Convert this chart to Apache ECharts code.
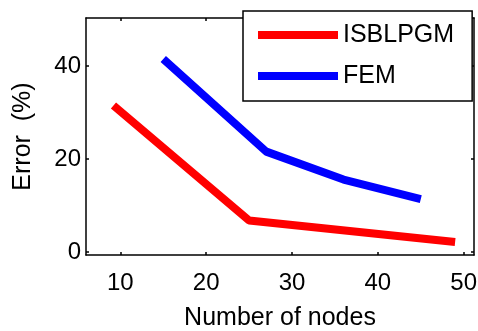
<!DOCTYPE html>
<html>
<head>
<meta charset="utf-8">
<script src="https://cdn.jsdelivr.net/npm/echarts@6/dist/echarts.min.js"></script>
<style>
html,body{margin:0;padding:0;background:#fff;}
#main{width:478px;height:331px;}
</style>
</head>
<body>
<div id="main"></div>
<script>
// data
var isblpgmX = [9.2, 25, 49];
var isblpgmY = [31.5, 6.8, 2.2];
var femX = [15, 27, 36, 45];
var femY = [41.5, 21.6, 15.6, 11.4];
var xTicks = [10, 20, 30, 40, 50];
var yTicks = [0, 20, 40];

var FONT = "'Liberation Sans', Arial, sans-serif";

var toPairs = function(xs, ys){
    var out = [];
    for (var i = 0; i < xs.length; i++) {
        out.push([xs[i], ys[i]]);
    }
    return out;
};

var myChart = echarts.init(document.getElementById('main'));

var axisLine = {show: true, onZero: false, lineStyle: {color: '#000', width: 1.5}};
var tick = function(vals){
    return {show: true, inside: true, length: 3, customValues: vals, lineStyle: {color: '#000', width: 1.5}};
};

var options = {
    animation: false,
    backgroundColor: '#fff',
    grid: {left: 86, right: 4, top: 18, bottom: 76, outerBoundsMode: 'none'},
    legend: {
        left: 243,
        top: 11,
        orient: 'vertical',
        padding: [10, 18, 11, 15],
        itemGap: 13,
        itemWidth: 80,
        itemHeight: 8,
        itemTextGap: 11,
        icon: 'rect',
        backgroundColor: '#fff',
        borderColor: '#000',
        borderWidth: 1.5,
        borderRadius: 0,
        textStyle: {fontFamily: FONT, fontSize: 25, color: '#000', lineHeight: 28},
        data: ['ISBLPGM', 'FEM']
    },
    xAxis: [
        {
            type: 'value', min: 6, max: 51.2, position: 'bottom',
            axisLine: axisLine,
            axisTick: tick(xTicks),
            splitLine: {show: false},
            axisLabel: {customValues: xTicks, margin: 16, color: '#000', fontFamily: FONT, fontSize: 24},
            name: 'Number of nodes',
            nameLocation: 'middle',
            nameGap: 51,
            nameTextStyle: {fontFamily: FONT, fontSize: 25, color: '#000'}
        },
        {
            type: 'value', min: 6, max: 51.2, position: 'top',
            axisLine: axisLine,
            axisTick: tick(xTicks),
            splitLine: {show: false},
            axisLabel: {show: false}
        }
    ],
    yAxis: [
        {
            type: 'value', min: -0.6, max: 50.3, position: 'left',
            axisLine: axisLine,
            axisTick: tick(yTicks),
            splitLine: {show: false},
            axisLabel: {customValues: yTicks, margin: 5, color: '#000', fontFamily: FONT, fontSize: 24},
            name: 'Error  (%)',
            nameLocation: 'middle',
            nameGap: 50,
            nameRotate: 90,
            nameTextStyle: {fontFamily: FONT, fontSize: 25, color: '#000'}
        },
        {
            type: 'value', min: -0.6, max: 50.3, position: 'right',
            axisLine: axisLine,
            axisTick: tick(yTicks),
            splitLine: {show: false},
            axisLabel: {show: false}
        }
    ],
    series: [
        {
            name: 'ISBLPGM',
            type: 'line',
            showSymbol: false,
            symbol: 'none',
            color: '#ff0000',
            lineStyle: {color: '#ff0000', width: 8},
            data: toPairs(isblpgmX, isblpgmY)
        },
        {
            name: 'FEM',
            type: 'line',
            showSymbol: false,
            symbol: 'none',
            color: '#0000ff',
            lineStyle: {color: '#0000ff', width: 8},
            data: toPairs(femX, femY)
        }
    ]
};

myChart.setOption(options);
</script>
</body>
</html>
